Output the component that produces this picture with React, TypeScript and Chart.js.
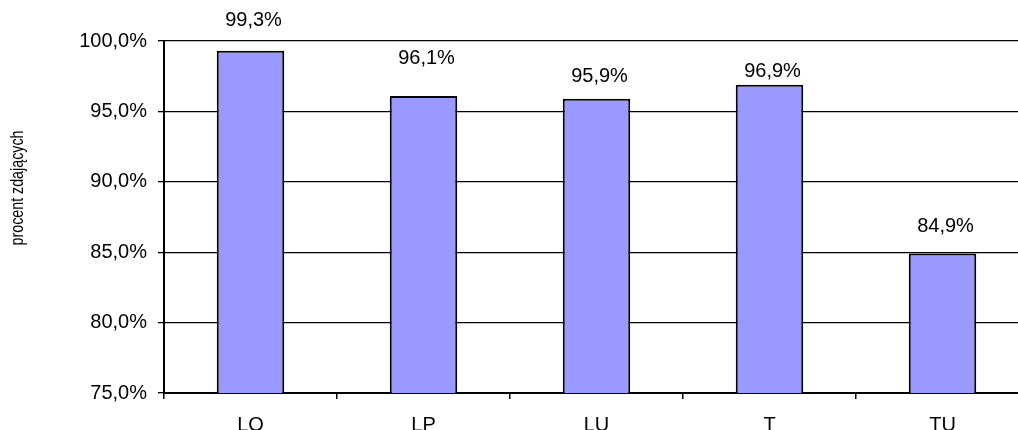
import React, { useEffect, useRef } from "react";
import { Chart, registerables } from "chart.js";

Chart.register(...registerables);

const categories = ["LO", "LP", "LU", "T", "TU"];
const values = [99.3, 96.1, 95.9, 96.9, 84.9];
const yTicks = [75, 80, 85, 90, 95, 100];

const fmt = (v: number) => v.toFixed(1).replace(".", ",") + "%";

const FONT = "'Liberation Sans', Arial, sans-serif";

export default function App() {
  const ref = useRef<HTMLCanvasElement | null>(null);

  useEffect(() => {
    if (!ref.current) return;
    const labelOffsets = [30, 37, 22, 13, 27];
    const labelPlugin = {
      id: "valueLabels",
      afterDatasetsDraw(chart: any) {
        const ctx = chart.ctx;
        const meta = chart.getDatasetMeta(0);
        ctx.save();
        ctx.fillStyle = "#000";
        ctx.font = `20px ${FONT}`;
        ctx.textAlign = "center";
        ctx.textBaseline = "middle";
        meta.data.forEach((bar: any, i: number) => {
          ctx.fillText(fmt(values[i]), bar.x + 3, bar.y - labelOffsets[i]);
        });
        ctx.restore();
      },
    };
    const titlePlugin = {
      id: "yTitle",
      afterDraw(chart: any) {
        const ctx = chart.ctx;
        ctx.save();
        ctx.fillStyle = "#000";
        ctx.font = `19px ${FONT}`;
        ctx.textAlign = "center";
        ctx.textBaseline = "middle";
        ctx.translate(18, 188);
        ctx.rotate(-Math.PI / 2);
        ctx.scale(0.75, 1);
        ctx.fillText("procent zdających", 0, 0);
        ctx.restore();
      },
    };
    const chart = new Chart(ref.current, {
      type: "bar",
      data: {
        labels: categories,
        datasets: [
          {
            data: values,
            backgroundColor: "#9999FF",
            borderColor: "#000000",
            borderWidth: 2,
            borderSkipped: false,
            barPercentage: 0.39,
            categoryPercentage: 1,
          },
        ],
      },
      options: {
        responsive: false,
        animation: false,
        layout: { padding: { top: 41, left: 0, right: 11, bottom: 0 } },
        plugins: {
          legend: { display: false },
          tooltip: { enabled: false },
          title: { display: false },
        },
        scales: {
          x: {
            grid: {
              offset: true,
              drawOnChartArea: false,
              drawTicks: true,
              tickLength: 6,
              color: "#000",
              lineWidth: 1.5,
            },
            border: { display: true, color: "#000", width: 2 },
            ticks: {
              color: "#000",
              font: { family: FONT, size: 20 },
              padding: 14,
              maxRotation: 0,
            },
            afterFit(scale: any) {
              scale.height = 47;
            },
          },
          y: {
            min: 75,
            max: 100,
            afterBuildTicks(scale: any) {
              scale.ticks = yTicks.map((v) => ({ value: v }));
            },
            grid: {
              color: "#000",
              lineWidth: 1.3,
              drawTicks: true,
              tickLength: 6,
            },
            border: { display: true, color: "#000", width: 2 },
            ticks: {
              color: "#000",
              font: { family: FONT, size: 20 },
              padding: 11,
              callback: (v: any) => fmt(Number(v)),
            },
            afterFit(scale: any) {
              scale.width = 164;
            },
          },
        },
      },
      plugins: [labelPlugin, titlePlugin],
    });
    return () => chart.destroy();
  }, []);

  return (
    <div style={{ position: "fixed", left: 0, top: 0, width: 1040, height: 440, background: "#fff" }}>
      <canvas ref={ref} width={1040} height={440} style={{ display: "block" }} />
    </div>
  );
}
